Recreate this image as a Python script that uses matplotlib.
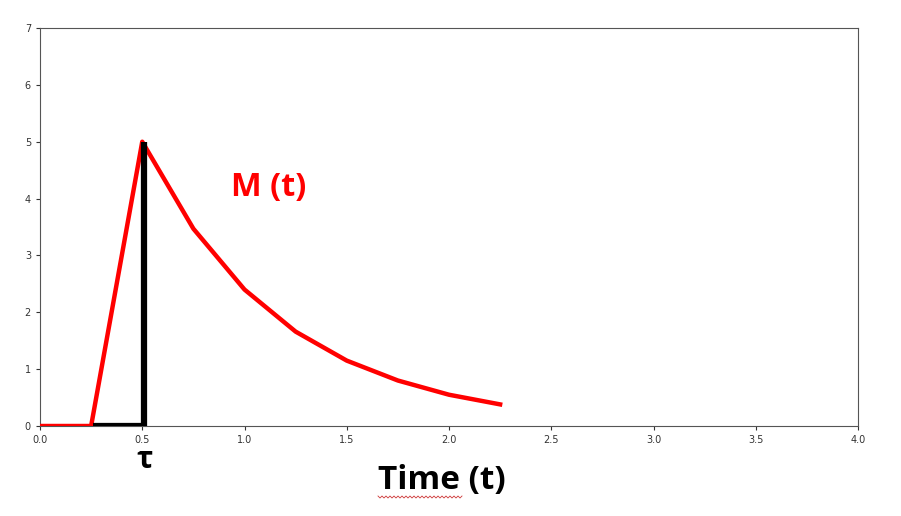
import matplotlib
matplotlib.use("Agg")
import matplotlib.pyplot as plt
import matplotlib.transforms as mtransforms
import numpy as np

# Data
t = [0.0, 0.25, 0.5, 0.75, 1.0, 1.25, 1.5, 1.75, 2.0, 2.25]
m = [0.0, 0.0, 5.0, 3.47, 2.40, 1.66, 1.15, 0.80, 0.55, 0.38]
tau = 0.5
tau_start = 0.25
peak = 5.0
xticks = [0.0, 0.5, 1.0, 1.5, 2.0, 2.5, 3.0, 3.5, 4.0]
yticks = [0, 1, 2, 3, 4, 5, 6, 7]

fig = plt.figure(figsize=(9.01, 5.16), dpi=100)
ax = fig.add_axes([40/901, 1-426/516, (858-40)/901, (426-28)/516])

ax.plot(t, m, color="#ff0000", lw=3.2, solid_joinstyle="round", zorder=3)
shift = mtransforms.offset_copy(ax.transData, fig=fig, x=1.5, y=0, units="points")
ax.plot([tau_start, tau], [0, 0], color="black", lw=4.5, zorder=4,
        solid_capstyle="butt", transform=shift)
ax.plot([tau, tau], [0, peak], color="black", lw=4.5, zorder=4,
        solid_capstyle="butt", transform=shift)

ax.set_xlim(0, 4)
ax.set_ylim(0, 7)
ax.set_xticks(xticks)
ax.set_xticklabels([f"{v:.1f}" for v in xticks])
ax.set_yticks(yticks)
ax.tick_params(labelsize=7, colors="#333333", length=3, width=0.8)
for s in ax.spines.values():
    s.set_color("#555555")
    s.set_linewidth(0.8)

ax.text(1.12, 4.2, "M (t)", color="#ff0000", fontsize=23.5, fontweight="bold",
        family=["Open Sans", "DejaVu Sans"], ha="center", va="center")
ax.text(tau + 0.01, -0.6, "τ", color="black", fontsize=22, fontweight="bold",
        family=["Open Sans", "DejaVu Sans"], ha="center", va="center", clip_on=False)
fig.text(442/901, 1-481/516, "Time (t)", color="black", fontsize=24, fontweight="bold",
         family=["Open Sans", "DejaVu Sans"], ha="center", va="center")

# spell-check style squiggle under "Time"
xs = np.linspace(378, 462, 43)
ys = 497 + np.where(np.arange(43) % 2 == 0, -1.0, 1.0)
fig.add_artist(plt.Line2D(xs/901, 1-ys/516, color="#cc3333", lw=0.6, transform=fig.transFigure))

fig.savefig("out.png", dpi=100)
